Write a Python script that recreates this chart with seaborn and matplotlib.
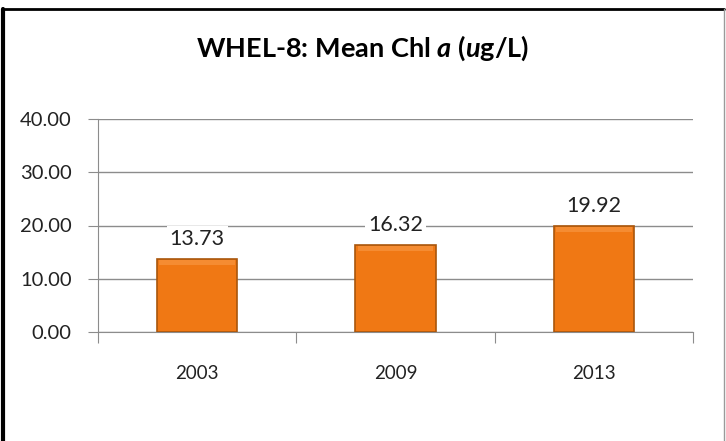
import matplotlib
matplotlib.use('Agg')
import matplotlib.pyplot as plt
from matplotlib.lines import Line2D
import seaborn as sns
import pandas as pd

# data
years = ['2003', '2009', '2013']
chl_mean = [13.73, 16.32, 19.92]
y_ticks = [0, 10, 20, 30, 40]

df = pd.DataFrame({'year': years, 'chl': chl_mean})

sns.set_style('white')
plt.rcParams['font.family'] = ['Lato', 'DejaVu Sans']
plt.rcParams['mathtext.fontset'] = 'custom'
plt.rcParams['mathtext.it'] = 'Lato:italic:bold'
plt.rcParams['mathtext.rm'] = 'Lato:bold'

fig = plt.figure(figsize=(7.26, 4.41), dpi=100)
ax = fig.add_axes([98 / 726, 1 - 332 / 441, 595 / 726, 213 / 441])

sns.barplot(data=df, x='year', y='chl', ax=ax, width=0.405,
            color='#F07814', saturation=1, edgecolor='#A9560C', linewidth=1.2,
            zorder=3)

ax.set_ylim(0, 40)
ax.set_xlim(-0.5, 2.5)
ax.set_yticks(y_ticks)
ax.set_yticklabels([f'{v:.2f}' for v in y_ticks])
ax.yaxis.grid(True, color='#8c8c8c', linewidth=1)
ax.set_axisbelow(True)
ax.set_xlabel('')
ax.set_ylabel('')

for side in ['top', 'right']:
    ax.spines[side].set_visible(False)
ax.spines['left'].set_color('#8c8c8c')
ax.spines['bottom'].set_color('#8c8c8c')

# category boundaries as ticks on x, labels in between
ax.set_xticks([-0.5, 0.5, 1.5, 2.5])
ax.set_xticklabels([])
ax.set_xticks([0, 1, 2], minor=True)
ax.set_xticklabels(years, minor=True)
ax.tick_params(axis='x', which='major', direction='out', length=8, color='#8c8c8c', bottom=True)
ax.tick_params(axis='x', which='minor', length=0, labelsize=13.5, pad=24, labelcolor='#222222')
ax.tick_params(axis='y', direction='out', length=7, color='#8c8c8c', left=True,
               labelsize=14.5, pad=12, labelcolor='#222222')

# subtle light top band on each bar (bevel look)
for p in ax.patches[:len(years)]:
    h = p.get_height()
    ax.bar(p.get_x() + p.get_width() / 2, 0.9, width=p.get_width() * 0.94,
           bottom=h - 1.1, color='#F58C32', linewidth=0, zorder=4)

labels = ax.bar_label(ax.containers[0], fmt='%.2f', padding=7, fontsize=15.5, color='#222222',
                      bbox=dict(facecolor='white', edgecolor='none', pad=2))

fig.text(363 / 726, 1 - 48 / 441, r'WHEL-8: Mean Chl $\mathit{a}$ ($\mathit{u}$g/L)',
         ha='center', va='center', fontsize=19.5, fontweight='bold', color='black')

# frame around the chart
fig.add_artist(Line2D([3 / 726, 3 / 726], [0, 1 - 9 / 441], color='black', linewidth=3,
                      transform=fig.transFigure))
fig.add_artist(Line2D([3 / 726, 724 / 726], [1 - 9 / 441, 1 - 9 / 441], color='black', linewidth=2,
                      transform=fig.transFigure))
fig.add_artist(Line2D([724 / 726, 724 / 726], [0, 1 - 9 / 441], color='#9a9a9a', linewidth=1,
                      transform=fig.transFigure))

fig.savefig('out.png', dpi=100)
